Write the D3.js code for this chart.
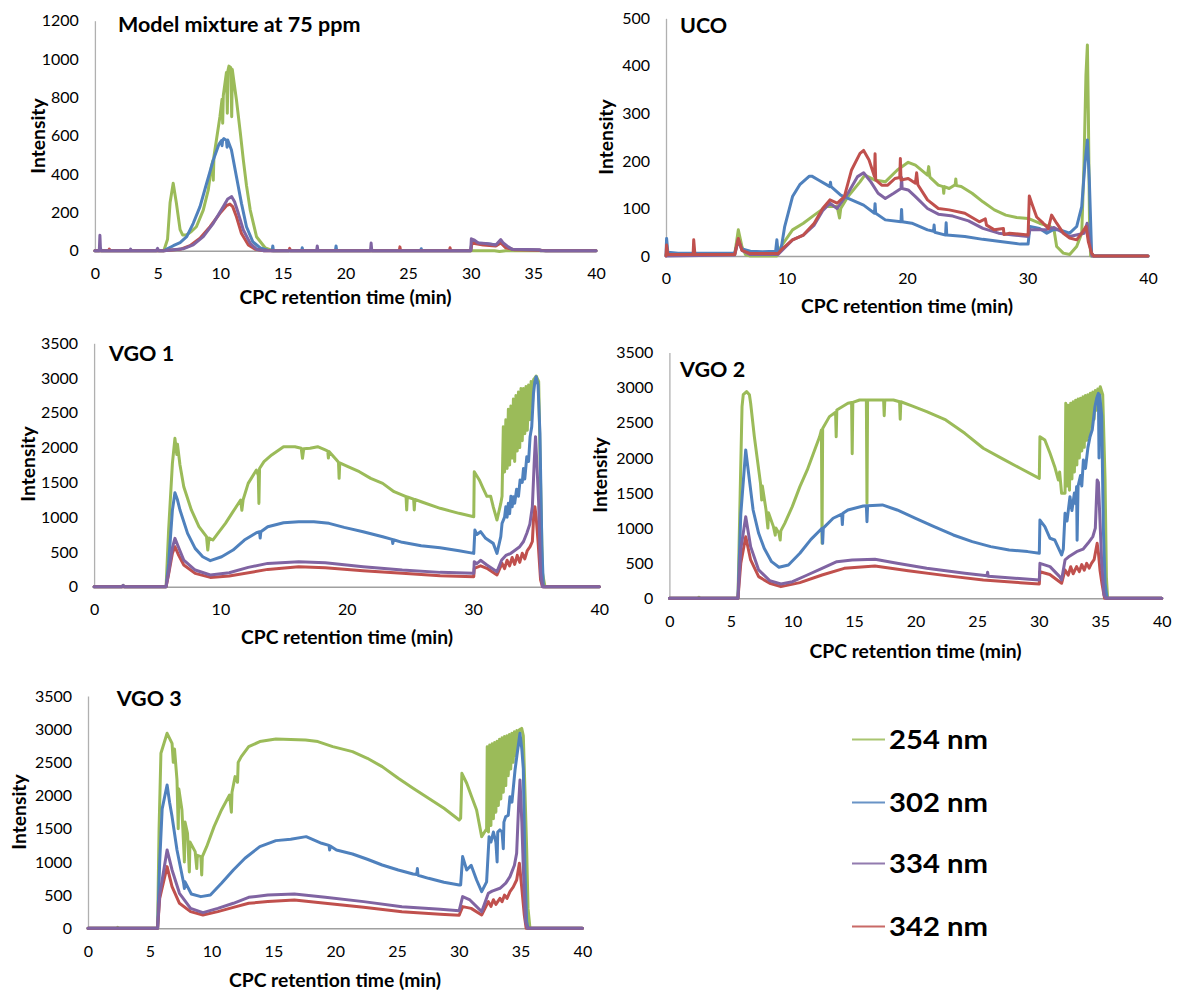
<!DOCTYPE html>
<html><head><meta charset="utf-8">
<script src="https://cdn.jsdelivr.net/npm/d3@7"></script>
<style>
html,body{margin:0;padding:0;background:#fff;}
svg{display:block;}
.tick text{font-family:Lato,"Liberation Sans",sans-serif;font-size:16px;fill:#000;}
.ttl{font-family:Lato,"Liberation Sans",sans-serif;font-weight:bold;fill:#000;}
</style></head>
<body>
<script>
// ---------------- DATA ----------------
const seriesNames = ["254 nm","302 nm","334 nm","342 nm"];
const panelTitles = ["Model mixture at 75 ppm","UCO","VGO 1","VGO 2","VGO 3"];
const xTitle = "CPC retention time (min)";
const yTitle = "Intensity";
const xTicks5 = [0,5,10,15,20,25,30,35,40];
const xTicks10 = [0,10,20,30,40];
const yTicksMix = [0,200,400,600,800,1000,1200];
const yTicksUco = [0,100,200,300,400,500];
const yTicksVgo = [0,500,1000,1500,2000,2500,3000,3500];

// Model mixture at 75 ppm  [time (min), intensity]
const mix254 = [[0,0],[5.5,0],[5.8,60],[6.0,250],[6.25,352],[6.5,250],[6.8,110],[7.0,82],[7.3,82],[7.7,100],[8.1,125],[8.65,212],[9.05,317],[9.3,440],[9.42,470],[9.45,368],[9.5,490],[9.58,525],[9.98,699],[10.15,790],[10.2,665],[10.25,810],[10.5,930],[10.57,717],[10.62,940],[10.7,963],[10.85,955],[10.92,699],[10.97,945],[11.1,880],[11.3,786],[11.6,620],[11.85,473],[12.1,340],[12.4,212],[12.9,73],[13.6,14],[14.2,0],[31.9,0],[32.3,-4],[32.8,0],[40,0]];
const mix302 = [[0,0],[0.4,0],[0.45,12],[0.5,0],[5.5,0],[5.7,7],[6.26,26],[6.8,42],[7.33,73],[7.85,143],[8.39,230],[8.92,352],[9.45,473],[9.9,555],[10.1,575],[10.15,548],[10.2,578],[10.3,585],[10.5,575],[10.55,540],[10.6,578],[10.9,525],[11.3,386],[11.7,247],[12.1,125],[12.6,47],[13.2,14],[13.8,3],[14.15,0],[14.2,25],[14.25,0],[16.5,0],[16.55,15],[16.6,0],[19.2,0],[19.25,25],[19.3,0],[26.0,0],[26.05,10],[26.1,0],[30,0],[30.1,50],[30.5,40],[31.5,35],[32.1,30],[32.4,50],[32.7,25],[33.3,8],[35.5,3],[36,0],[40,0]];
const mix342 = [[0,0],[1.1,0],[1.15,8],[1.2,0],[5.5,0],[6.8,7],[7.59,26],[8.39,65],[9.19,125],[9.98,195],[10.5,235],[10.78,243],[11.0,230],[11.3,177],[11.7,90],[12.25,30],[12.8,7],[13.5,0],[15.5,0],[15.55,12],[15.6,0],[24.3,0],[24.35,20],[24.4,0],[28.3,0],[28.35,15],[28.4,0],[30,0],[30.1,40],[31,30],[32,25],[32.4,40],[32.8,15],[33.5,5],[35.5,2],[36,0],[40,0]];
const mix334 = [[0,0],[0.35,0],[0.4,80],[0.45,0],[2.8,0],[2.85,8],[2.9,0],[4.9,0],[5.0,12],[5.1,0],[5.5,0],[7.05,10],[7.85,30],[8.65,73],[9.45,143],[10.25,230],[10.6,270],[10.92,282],[11.15,255],[11.45,195],[11.85,108],[12.4,38],[12.9,8],[13.5,0],[17.7,0],[17.75,25],[17.8,0],[22.0,0],[22.05,40],[22.1,0],[30,0],[30.05,62],[30.3,55],[30.6,40],[31.2,38],[32.0,30],[32.4,58],[32.6,40],[33.0,20],[33.3,8],[35.5,5],[35.6,0],[40,0]];

// UCO
const uco254 = [[0,3],[5.7,3],[6.0,55],[6.3,20],[6.6,3],[7,0],[9.2,0],[9.55,20],[10.5,55],[11.4,69],[12.3,86],[13.3,104],[14.2,104],[14.4,80],[14.5,100],[15.1,125],[16.1,156],[16.5,170],[17.3,160],[18.2,156],[19.2,181],[20.1,197],[20.7,191],[21.7,170],[21.8,188],[21.9,166],[22.6,149],[23.0,146],[23.05,132],[23.1,146],[23.5,142],[24.0,150],[24.05,162],[24.1,148],[24.5,146],[25.4,132],[26.3,114],[27.25,97],[28.2,86],[29.1,81],[30.05,79],[31.0,69],[31.86,62],[32.2,55],[32.42,20],[32.97,6],[33.5,3],[34.08,20],[34.5,48],[34.69,195],[34.85,380],[34.97,444],[35.05,300],[35.15,60],[35.24,0],[40,0]];
const uco302 = [[0,0],[0.05,37],[0.15,8],[1,6],[5.7,6],[6.0,34],[6.3,15],[7,10],[8,9],[9.1,10],[9.2,34],[9.3,8],[9.55,15],[9.85,62],[10.5,125],[11.1,150],[11.9,168],[12.1,168],[12.65,160],[13.6,146],[13.65,155],[13.7,146],[14.5,128],[15.4,118],[16.4,107],[17.3,90],[17.35,110],[17.4,90],[18.2,76],[19.5,72],[19.55,98],[19.6,72],[20.4,69],[21.7,55],[22.2,52],[22.25,65],[22.3,50],[23.2,44],[23.25,70],[23.3,44],[24.8,41],[26.3,35],[27.9,30],[29.4,25],[30.05,25],[30.2,62],[31.0,58],[31.6,48],[32.1,55],[32.7,55],[33.5,48],[34.08,62],[34.5,104],[34.77,195],[34.97,244],[35.13,160],[35.32,6],[35.5,0],[40,0]];
const uco334 = [[0,0],[5.7,2],[6.0,34],[6.3,12],[7,3],[9.3,3],[10.5,34],[11.4,44],[12.3,65],[13.0,95],[13.6,111],[14.2,100],[15.1,132],[15.9,167],[16.4,175],[17.0,156],[17.6,132],[18.2,121],[18.9,132],[19.5,142],[19.55,165],[19.6,142],[20.1,139],[20.7,125],[21.7,100],[22.6,88],[23.8,84],[25.1,74],[26.3,58],[27.6,48],[28.8,44],[30.05,41],[30.2,55],[31.5,55],[32.2,60],[33.5,41],[34.7,48],[34.95,69],[35.2,20],[35.35,0],[40,0]];
const uco342 = [[0,0],[0.05,23],[0.15,3],[2.25,3],[2.3,34],[2.4,3],[5.7,3],[6.0,37],[6.3,12],[7,5],[9.3,5],[9.55,13],[10.5,34],[11.4,44],[12.3,69],[13.0,100],[13.6,118],[14.2,111],[14.8,125],[15.4,181],[16.1,216],[16.4,222],[16.85,202],[17.3,167],[17.35,215],[17.4,160],[17.9,149],[18.4,149],[19.0,163],[19.4,165],[19.45,205],[19.5,160],[20.1,163],[20.7,153],[20.8,175],[20.9,150],[21.7,118],[22.6,100],[23.5,97],[24.8,90],[26.0,72],[26.5,78],[26.6,65],[27.25,55],[28.0,58],[28.05,45],[28.5,48],[30.05,44],[30.15,126],[30.35,111],[30.76,82],[31.3,69],[31.73,58],[32.0,86],[32.42,69],[32.97,48],[33.5,38],[34.08,34],[34.5,48],[34.86,62],[35.05,30],[35.32,6],[35.5,0],[40,0]];

// VGO 1
const vgo1_254 = [[0,0],[2.2,0],[2.3,20],[2.4,0],[5.7,0],[5.9,815],[6.2,1774],[6.4,2133],[6.55,1900],[6.6,2050],[6.8,1750],[7.1,1438],[7.7,1103],[8.3,863],[8.9,719],[9.0,527],[9.1,700],[9.4,671],[9.8,767],[10.4,911],[11.0,1079],[11.6,1246],[11.7,1100],[11.8,1250],[12.2,1486],[12.85,1678],[13.0,1600],[13.05,1198],[13.1,1700],[13.45,1798],[14.06,1894],[15.0,2013],[15.9,2013],[16.4,1990],[16.5,1846],[16.6,1985],[17.1,1990],[17.7,2013],[18.3,1966],[18.5,1950],[18.55,1850],[18.6,1945],[19.2,1822],[19.35,1790],[19.4,1558],[19.45,1780],[20.1,1726],[21.0,1654],[21.9,1558],[22.85,1486],[23.75,1366],[24.7,1294],[24.75,1103],[24.8,1290],[25.3,1260],[25.35,1103],[25.4,1255],[25.9,1222],[27.4,1127],[28.9,1055],[30.06,1007],[30.1,1654],[30.5,1535],[30.8,1415],[31.1,1300],[31.4,1300],[31.6,1150],[31.9,959],[32.2,1198],[32.3,1300],[32.4,2300],[32.5,1650],[32.6,2400],[32.7,1700],[32.8,2550],[32.9,1750],[33.0,2600],[33.1,1850],[33.2,2700],[33.3,1800],[33.4,2750],[33.5,1950],[33.6,2800],[33.7,2000],[33.8,2850],[33.9,2100],[34.0,2850],[34.1,2200],[34.2,2880],[34.3,2250],[34.4,2900],[34.5,2400],[34.6,2950],[34.7,2600],[34.8,2980],[34.9,3000],[35.0,3030],[35.2,2950],[35.35,1500],[35.5,200],[35.7,0],[40,0]];
const vgo1_302 = [[0,0],[5.7,0],[5.9,335],[6.2,1100],[6.4,1352],[6.6,1250],[6.8,1103],[7.4,767],[8.0,551],[8.6,431],[9.2,374],[10.1,431],[11.0,527],[11.9,671],[12.85,777],[13.1,790],[13.15,700],[13.2,790],[13.75,863],[15.0,920],[16.2,935],[17.4,935],[18.6,911],[19.8,853],[21.3,791],[22.85,719],[23.6,680],[23.65,620],[23.7,675],[24.4,638],[25.9,590],[27.4,561],[28.9,518],[30.06,479],[30.15,815],[30.3,750],[30.6,791],[31.0,695],[31.6,623],[31.9,479],[32.2,719],[32.3,911],[32.5,1000],[32.6,1150],[32.7,1000],[32.8,1200],[32.9,1050],[33.0,1300],[33.1,1150],[33.2,1294],[33.3,1200],[33.45,1400],[33.6,1300],[33.73,1535],[33.9,1500],[34.0,1700],[34.1,1550],[34.26,1870],[34.4,1800],[34.52,2157],[34.65,2300],[34.79,2781],[34.9,2950],[35.0,3020],[35.15,2900],[35.3,2200],[35.45,600],[35.57,0],[40,0]];
const vgo1_334 = [[0,0],[2.2,0],[2.3,20],[2.4,0],[5.7,0],[5.9,200],[6.2,560],[6.4,695],[6.7,560],[7.1,383],[8.0,240],[9.2,168],[10.7,201],[12.2,278],[13.75,335],[16.2,359],[18.3,345],[21.3,288],[24.4,240],[27.4,206],[30.06,192],[30.1,360],[30.3,330],[30.6,380],[31.1,312],[31.9,216],[32.27,384],[32.6,450],[33.0,480],[33.3,520],[33.7,575],[34.0,650],[34.26,768],[34.5,900],[34.7,1150],[34.85,1800],[34.95,2157],[35.05,1800],[35.2,1200],[35.35,200],[35.5,0],[40,0]];
const vgo1_342 = [[0,0],[5.7,0],[5.9,180],[6.2,480],[6.4,575],[6.7,450],[7.1,312],[8.0,192],[9.2,134],[10.7,153],[13.75,249],[16.2,288],[18.3,273],[21.3,230],[24.4,192],[27.4,158],[30.06,144],[30.1,264],[30.6,300],[31.1,264],[31.9,168],[32.3,336],[32.5,260],[32.7,380],[32.9,300],[33.1,420],[33.3,320],[33.5,450],[33.7,350],[33.9,480],[34.1,400],[34.3,520],[34.52,575],[34.7,650],[34.8,1000],[34.9,1150],[35.0,1000],[35.15,650],[35.35,100],[35.5,0],[40,0]];

// VGO 2
const vgo2_254 = [[0,0],[2.3,0],[2.4,15],[2.5,0],[5.57,0],[5.75,1500],[5.9,2730],[6.0,2900],[6.27,2944],[6.5,2900],[6.6,2778],[6.9,2303],[7.4,1638],[7.5,1400],[7.55,1600],[7.85,1258],[8.0,1000],[8.05,1220],[8.45,1021],[8.6,900],[8.65,1000],[8.9,926],[9.0,830],[9.05,960],[9.37,1068],[9.98,1306],[10.6,1591],[11.2,1828],[11.8,2113],[12.2,2300],[12.35,2398],[12.4,783],[12.45,2420],[13.0,2588],[13.5,2650],[13.55,2300],[13.6,2683],[14.5,2778],[14.8,2790],[14.85,2060],[14.9,2790],[15.45,2825],[16.0,2825],[16.05,1353],[16.1,2825],[17.4,2825],[17.45,2600],[17.5,2825],[18.2,2825],[18.7,2800],[18.75,2550],[18.8,2800],[19.7,2740],[20.9,2659],[22.45,2540],[24.0,2350],[25.5,2137],[27.0,1994],[28.5,1852],[30.05,1709],[30.1,2302],[30.5,2255],[30.92,2066],[31.3,1875],[31.6,1685],[31.7,1800],[31.86,1496],[32.14,1496],[32.2,2778],[32.3,1600],[32.4,2750],[32.5,1540],[32.6,2780],[32.7,1700],[32.8,2800],[32.9,1800],[33.0,2820],[33.1,1900],[33.2,2840],[33.3,2000],[33.4,2850],[33.5,2100],[33.6,2870],[33.7,2150],[33.8,2890],[33.9,2250],[34.0,2900],[34.1,2300],[34.2,2920],[34.3,2450],[34.4,2940],[34.5,2550],[34.6,2960],[34.7,2680],[34.8,2980],[34.9,2900],[35.0,3014],[35.2,2900],[35.39,1700],[35.5,300],[35.6,0],[40,0]];
const vgo2_302 = [[0,0],[5.57,0],[5.8,1200],[6.2,2113],[6.5,1686],[6.8,1258],[7.25,926],[7.7,712],[8.3,522],[8.9,442],[9.67,475],[10.6,641],[11.5,840],[12.4,997],[12.45,783],[12.5,1000],[13.3,1140],[14.0,1200],[14.05,1050],[14.1,1210],[14.5,1258],[15.75,1315],[16.0,1320],[16.05,1092],[16.1,1320],[17.3,1330],[18.5,1258],[20.0,1140],[21.5,1021],[23.06,902],[24.6,807],[26.1,736],[27.6,689],[29.1,665],[30.05,641],[30.1,1115],[30.5,1021],[30.92,855],[31.3,831],[31.86,617],[32.0,700],[32.14,1211],[32.3,1100],[32.54,1447],[32.7,1250],[32.9,1500],[33.0,1350],[33.08,1590],[33.12,826],[33.2,1600],[33.4,1750],[33.5,1600],[33.63,1970],[33.8,1850],[34.0,2150],[34.17,2302],[34.35,2400],[34.57,2729],[34.71,2850],[34.85,2920],[34.9,2000],[34.95,2900],[35.12,2600],[35.25,1000],[35.39,220],[35.55,0],[40,0]];
const vgo2_334 = [[0,0],[5.57,0],[5.8,700],[6.2,1163],[6.6,736],[7.25,404],[8.15,252],[9.06,204],[10.0,237],[11.2,332],[12.4,427],[13.6,522],[14.85,546],[16.7,556],[18.5,499],[20.9,427],[24.0,356],[25.8,320],[25.85,370],[25.9,315],[27.0,299],[30.05,261],[30.1,498],[30.92,451],[31.7,309],[31.86,261],[32.14,546],[32.5,600],[33.08,664],[33.6,700],[34.0,783],[34.4,880],[34.6,1000],[34.75,1685],[34.85,1650],[34.98,1100],[35.12,500],[35.3,50],[35.45,0],[40,0]];
const vgo2_342 = [[0,0],[5.57,0],[5.8,500],[6.2,878],[6.6,546],[7.25,309],[8.15,214],[9.06,166],[10.6,223],[12.4,332],[14.2,427],[16.7,461],[19.4,394],[22.45,323],[25.5,261],[28.5,223],[30.05,204],[30.1,379],[30.9,340],[31.86,214],[32.14,403],[32.4,330],[32.6,450],[32.8,350],[33.08,451],[33.3,380],[33.5,480],[33.7,400],[33.9,498],[34.1,430],[34.3,500],[34.5,550],[34.75,783],[34.85,650],[34.98,400],[35.15,200],[35.35,0],[40,0]];

// VGO 3
const vgo3_254 = [[0,0],[2.3,0],[2.4,15],[2.5,0],[5.63,0],[5.75,1500],[5.9,2637],[6.4,2938],[6.8,2787],[6.9,2500],[7.0,2700],[7.2,2235],[7.3,1500],[7.35,2100],[7.6,1783],[7.8,1000],[7.85,1600],[8.05,1431],[8.2,850],[8.25,1300],[8.67,1155],[8.8,900],[8.85,1100],[9.13,1080],[9.2,804],[9.25,1080],[9.6,1230],[10.2,1532],[10.8,1783],[11.45,2009],[11.6,1750],[11.65,2050],[11.9,2285],[12.1,2200],[12.15,2500],[12.4,2587],[13.0,2737],[13.9,2813],[15.2,2853],[17.6,2838],[18.6,2813],[19.8,2737],[21.4,2662],[22.6,2562],[23.8,2436],[25.1,2260],[26.3,2109],[27.55,1959],[28.8,1808],[30.03,1632],[30.15,1658],[30.25,2335],[30.64,2185],[31.04,1983],[31.44,1783],[31.85,1381],[32.25,1500],[32.3,2737],[32.4,1450],[32.5,2760],[32.6,1550],[32.7,2780],[32.8,1650],[32.9,2800],[33.0,1750],[33.1,2820],[33.2,1850],[33.3,2850],[33.4,1950],[33.5,2870],[33.6,2050],[33.7,2890],[33.8,2150],[33.9,2900],[34.0,2300],[34.1,2920],[34.2,2400],[34.3,2940],[34.4,2500],[34.5,2960],[34.6,2600],[34.7,2980],[34.8,2750],[34.9,2990],[35.0,3000],[35.09,3013],[35.22,2900],[35.49,1200],[35.6,300],[35.76,0],[40,0]];
const vgo3_302 = [[0,0],[5.63,0],[5.8,1000],[6.0,1800],[6.4,2160],[6.6,1900],[6.8,1683],[7.2,1180],[7.5,900],[7.74,678],[7.8,600],[7.85,700],[8.36,517],[9.13,477],[9.9,502],[10.8,678],[11.76,879],[12.7,1055],[13.9,1231],[15.2,1321],[16.4,1341],[17.65,1381],[18.9,1281],[19.5,1250],[19.55,1180],[19.6,1240],[20.1,1180],[21.4,1120],[22.6,1040],[23.8,954],[25.1,879],[26.3,819],[26.6,810],[26.65,900],[26.7,800],[27.55,753],[28.8,693],[30.03,653],[30.15,653],[30.31,1080],[30.64,879],[31.0,950],[31.44,728],[31.85,552],[32.25,700],[32.45,1381],[32.6,1300],[32.8,1450],[33.0,1300],[33.1,1000],[33.15,1450],[33.33,1482],[33.5,1450],[33.6,1200],[33.65,1600],[33.8,1683],[34.0,1700],[34.14,1983],[34.3,1900],[34.55,2385],[34.7,2600],[34.95,2938],[35.1,2700],[35.22,2400],[35.35,900],[35.49,100],[35.6,0],[40,0]];
const vgo3_334 = [[0,0],[5.63,0],[5.8,500],[6.4,1180],[6.8,879],[7.4,527],[8.3,301],[9.3,236],[10.5,301],[11.76,377],[13.0,467],[14.55,502],[16.7,517],[19.2,467],[22.3,402],[25.4,326],[28.5,286],[30.03,266],[30.31,477],[30.9,427],[31.85,251],[32.39,527],[32.7,560],[33.33,603],[33.8,680],[34.14,778],[34.5,950],[34.68,1130],[34.85,1900],[34.95,2235],[35.1,1600],[35.22,900],[35.4,100],[35.55,0],[40,0]];
const vgo3_342 = [[0,0],[5.63,0],[5.8,450],[6.4,929],[6.8,628],[7.4,377],[8.3,251],[9.3,201],[10.5,251],[11.76,316],[13.0,377],[14.55,402],[16.7,427],[19.2,377],[22.3,316],[25.4,251],[28.5,211],[30.03,196],[30.31,327],[31.0,300],[31.85,201],[32.39,402],[32.6,330],[32.8,430],[33.0,360],[33.33,452],[33.5,400],[33.7,500],[33.9,450],[34.14,552],[34.4,620],[34.68,728],[34.9,980],[35.1,600],[35.3,200],[35.45,0],[40,0]];

// ---------------- STYLE / LAYOUT ----------------
const colors = {"254 nm":"#9BBB59","302 nm":"#4F81BD","334 nm":"#8064A2","342 nm":"#C0504D"};

const panels = [
  {title:panelTitles[0], yTicks:yTicksMix, xTicks:xTicks5,
   data:{"254 nm":mix254,"302 nm":mix302,"334 nm":mix334,"342 nm":mix342},
   order:["254 nm","302 nm","342 nm","334 nm"],
   box:{x0:94.9,x1:596,yb:250.7,yt:20.7}, tpos:[118,24], xt:[345.5,297], yt:[38.6,136]},
  {title:panelTitles[1], yTicks:yTicksUco, xTicks:xTicks10,
   data:{"254 nm":uco254,"302 nm":uco302,"334 nm":uco334,"342 nm":uco342},
   order:["254 nm","302 nm","334 nm","342 nm"],
   box:{x0:666,x1:1148,yb:256,yt:18.3}, tpos:[680,25], xt:[907,306], yt:[606,137]},
  {title:panelTitles[2], yTicks:yTicksVgo, xTicks:xTicks10,
   data:{"254 nm":vgo1_254,"302 nm":vgo1_302,"334 nm":vgo1_334,"342 nm":vgo1_342},
   order:["254 nm","302 nm","342 nm","334 nm"],
   box:{x0:94.1,x1:599.3,yb:586.7,yt:343.3}, tpos:[109,353], xt:[347,637], yt:[28,464]},
  {title:panelTitles[3], yTicks:yTicksVgo, xTicks:xTicks5,
   data:{"254 nm":vgo2_254,"302 nm":vgo2_302,"334 nm":vgo2_334,"342 nm":vgo2_342},
   order:["254 nm","302 nm","342 nm","334 nm"],
   box:{x0:669.4,x1:1161.8,yb:598.3,yt:352.6}, tpos:[680,369], xt:[915.6,651], yt:[600.5,475]},
  {title:panelTitles[4], yTicks:yTicksVgo, xTicks:xTicks5,
   data:{"254 nm":vgo3_254,"302 nm":vgo3_302,"334 nm":vgo3_334,"342 nm":vgo3_342},
   order:["254 nm","302 nm","342 nm","334 nm"],
   box:{x0:88.0,x1:582.4,yb:928.3,yt:696.0}, tpos:[116.7,698], xt:[335,980], yt:[19,812]}
];

const svg = d3.select("body").append("svg").attr("width",1177).attr("height",991);
svg.append("rect").attr("width",1177).attr("height",991).attr("fill","#fff");

panels.forEach(p=>{
  const g = svg.append("g");
  const x = d3.scaleLinear().domain([0,40]).range([p.box.x0,p.box.x1]);
  const ymax = d3.max(p.yTicks);
  const y = d3.scaleLinear().domain([0,ymax]).range([p.box.yb,p.box.yt]);

  const yAxis = g.append("g").attr("transform",`translate(${p.box.x0},0)`)
    .call(d3.axisLeft(y).tickValues(p.yTicks).tickSize(0).tickSizeOuter(0).tickPadding(16).tickFormat(d3.format("d")));
  yAxis.select(".domain").attr("stroke","#B0B0B0").attr("stroke-width",1.3);

  const xAxis = g.append("g").attr("transform",`translate(0,${p.box.yb})`)
    .call(d3.axisBottom(x).tickValues(p.xTicks).tickSize(0).tickSizeOuter(0).tickPadding(17).tickFormat(d3.format("d")));
  xAxis.select(".domain").attr("stroke","#A0A0A0").attr("stroke-width",1.5);

  const line = d3.line().x(d=>x(d[0])).y(d=>y(d[1]));
  p.order.forEach(s=>{
    g.append("path").datum(p.data[s]).attr("d",line)
      .attr("fill","none").attr("stroke",colors[s]).attr("stroke-width",3)
      .attr("stroke-linejoin","round").attr("stroke-linecap","round");
  });

  g.append("text").attr("class","ttl").attr("x",p.tpos[0]).attr("y",p.tpos[1])
    .attr("dy","0.35em").attr("font-size",21.5).text(p.title);
  g.append("text").attr("class","ttl").attr("x",p.xt[0]).attr("y",p.xt[1])
    .attr("dy","0.35em").attr("text-anchor","middle").attr("font-size",19.3).text(xTitle);
  g.append("text").attr("class","ttl")
    .attr("transform",`translate(${p.yt[0]},${p.yt[1]}) rotate(-90)`)
    .attr("dy","0.35em").attr("text-anchor","middle").attr("font-size",19.3).text(yTitle);
});

// legend
const legY = [739.5,802.5,863.5,926.5];
const leg = svg.append("g");
seriesNames.forEach((s,i)=>{
  leg.append("line").attr("x1",852).attr("x2",885).attr("y1",legY[i]).attr("y2",legY[i])
    .attr("stroke",colors[s]).attr("stroke-width",2.2).attr("opacity",0.85);
  leg.append("text").attr("class","ttl").attr("x",889).attr("y",legY[i]).attr("dy","0.36em")
    .attr("font-size",27).attr("textLength",99).attr("lengthAdjust","spacingAndGlyphs").text(s);
});
</script>
</body></html>
